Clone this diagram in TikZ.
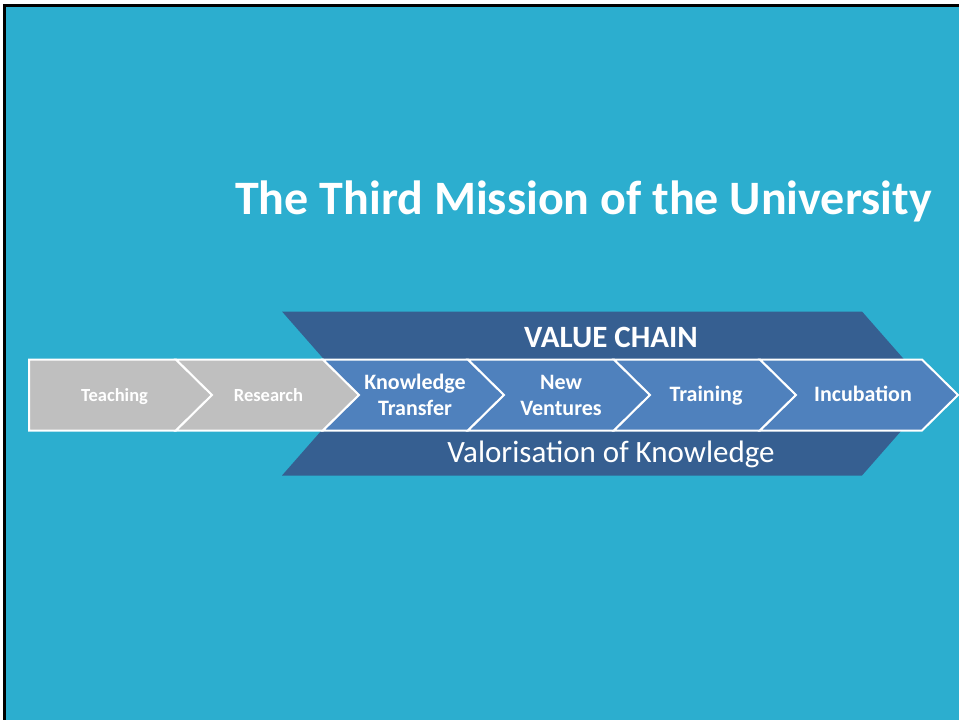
\documentclass[tikz,border=0pt]{standalone}
\usepackage{fontspec}
\setmainfont{Carlito}
\usepackage{tikz}
\usetikzlibrary{positioning}
\definecolor{slidebg}{RGB}{44,174,207}
\definecolor{banddark}{RGB}{54,95,145}
\definecolor{chevblue}{RGB}{79,129,189}
\definecolor{chevgrey}{RGB}{191,191,191}

\begin{document}
\begin{tikzpicture}[x=1pt, y=-1pt,
    chevron/.style={draw=white, line width=2pt, line join=miter},
    steplabel/.style={text=white, inner sep=0pt, align=center, font=\bfseries\fontsize{22}{26}\selectfont},
    smalllabel/.style={text=white, inner sep=0pt, font=\bfseries\fontsize{18.5}{22}\selectfont}]
    \useasboundingbox (0,0) rectangle (959,720);
    % slide background
    \fill[white] (0,0) rectangle (959,720);
    \fill[black] (3,4) rectangle (959,720);
    \fill[slidebg] (6,7) rectangle (959,720);

    % title
    \node[text=white, anchor=base, inner sep=0pt, font=\bfseries\fontsize{48}{54}\selectfont] (title) at (583.5, 214) {The Third Mission of the University};

    % value chain band
    \fill[banddark] (282,311.5) -- (862,311.5) -- (934,393.5) -- (862,475.5) -- (282,475.5) -- (354,393.5) -- cycle;
    \node[text=white, anchor=base, inner sep=0pt, font=\bfseries\fontsize{31}{34}\selectfont] (chain) at (611, 347) {VALUE CHAIN};
    \node[text=white, anchor=base, inner sep=0pt, font=\fontsize{31}{34}\selectfont] (valor) at (611, 462) {Valorisation of Knowledge};

    % chevrons
    \filldraw[chevron, fill=chevgrey] (29,359.5) -- (176,359.5) -- (212,395) -- (176,430.5) -- (29,430.5) -- cycle;
    \filldraw[chevron, fill=chevgrey] (176,359.5) -- (323,359.5) -- (359,395) -- (323,430.5) -- (176,430.5) -- (212,395) -- cycle;
    \filldraw[chevron, fill=chevblue] (323,359.5) -- (468,359.5) -- (504,395) -- (468,430.5) -- (323,430.5) -- (359,395) -- cycle;
    \filldraw[chevron, fill=chevblue] (468,359.5) -- (614,359.5) -- (650,395) -- (614,430.5) -- (468,430.5) -- (504,395) -- cycle;
    \filldraw[chevron, fill=chevblue] (614,359.5) -- (760,359.5) -- (796,395) -- (760,430.5) -- (614,430.5) -- (650,395) -- cycle;
    \filldraw[chevron, fill=chevblue] (760,359.5) -- (922,359.5) -- (958,395) -- (922,430.5) -- (760,430.5) -- (796,395) -- cycle;

    \node[smalllabel, anchor=base] (teach) at (114.5, 401) {Teaching};
    \node[smalllabel, anchor=base] (research) at (268.5, 401) {Research};
    \node[steplabel] (transfer) at (415, 395) {Knowledge\\Transfer};
    \node[steplabel] (ventures) at (561, 395) {New\\Ventures};
    \node[steplabel, anchor=base] (training) at (706, 401) {Training};
    \node[steplabel, anchor=base] (incub) at (863, 401) {Incubation};
\end{tikzpicture}
\end{document}
